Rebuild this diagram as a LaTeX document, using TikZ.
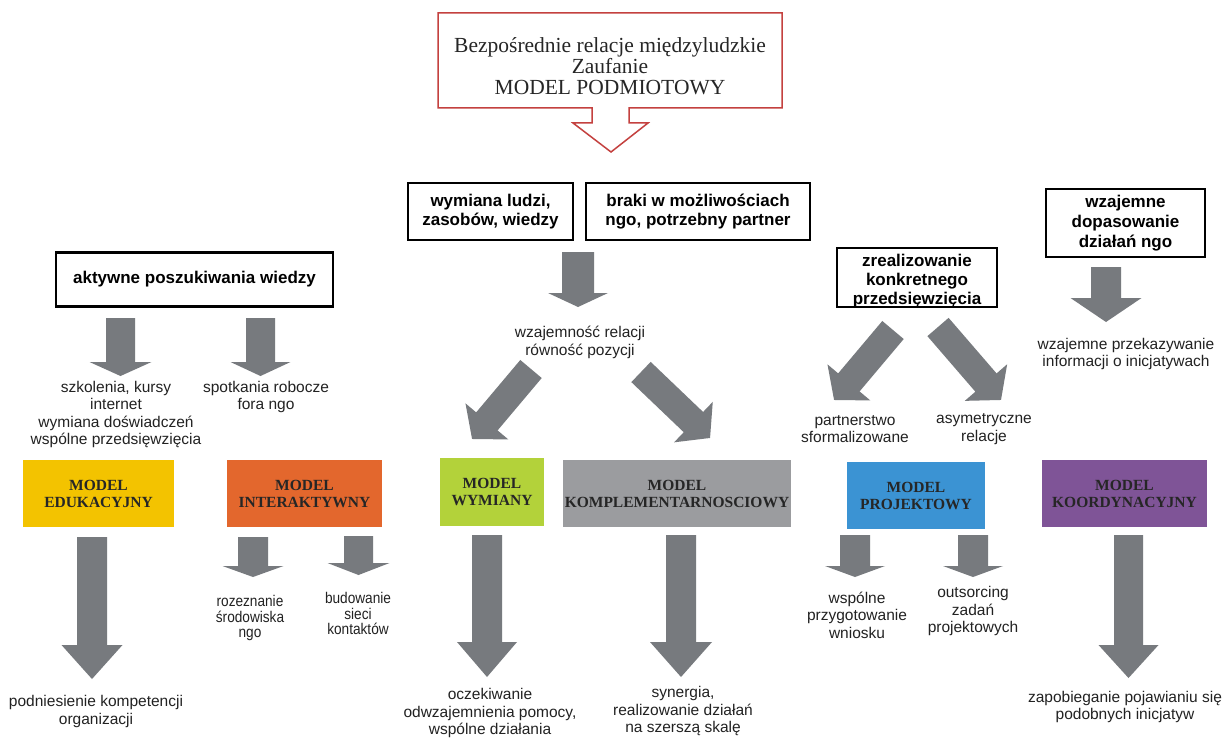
\documentclass[tikz,border=0pt]{standalone}
\usepackage{fontspec}
\setmainfont{Liberation Serif}
\setsansfont{Liberation Sans}
\newfontfamily\narrowsans[FakeStretch=0.88]{Liberation Sans}
\definecolor{arrgray}{HTML}{777A7E}
\definecolor{topred}{HTML}{C4413F}
\definecolor{cyellow}{HTML}{F3C300}
\definecolor{corange}{HTML}{E3672D}
\definecolor{clime}{HTML}{B3D23A}
\definecolor{cgray}{HTML}{9B9C9F}
\definecolor{cblue}{HTML}{3B93D3}
\definecolor{cpurple}{HTML}{7F5497}
\definecolor{modeltext}{HTML}{262626}
\definecolor{lbltext}{HTML}{222222}
\tikzset{
  arrowfill/.style={fill=arrgray},
  blackbox/.style={draw=black, line width=2.8pt, inner sep=0pt, align=center,
    font=\sffamily\bfseries\fontsize{17}{19}\selectfont},
  modelbox/.style={inner sep=0pt, align=center, text=modeltext,
    font=\rmfamily\bfseries\fontsize{15.5}{17}\selectfont},
  lbl/.style={inner sep=0pt, align=center, text=lbltext,
    font=\sffamily\fontsize{15.5}{17.5}\selectfont},
  nlbl/.style={inner sep=0pt, align=center, text=lbltext,
    font=\narrowsans\fontsize{15.5}{15.5}\selectfont},
  toptext/.style={inner sep=0pt, align=center, text=black!85,
    font=\rmfamily\fontsize{21.5}{21}\selectfont}
}
\newcommand{\blockarrow}[7]{%
  \begin{scope}[shift={(#1,#2)},rotate=#3]
    \fill[arrowfill] (0,-#5/2) -- ({#4-#7},-#5/2) -- ({#4-#7},-#6/2) -- ({#4},0)
      -- ({#4-#7},#6/2) -- ({#4-#7},#5/2) -- (0,#5/2) -- cycle;
  \end{scope}}
\newcommand{\downarr}[6]{\blockarrow{#1}{#2}{-90}{#3-#2}{#4}{#5}{#6}}
\begin{document}
\begin{tikzpicture}[x=1pt,y=-1pt]
\useasboundingbox[fill=white] (0,0) rectangle (1225,738);

% top red box with arrow
\draw[topred, line width=1.5pt, line join=miter]
  (438,13) -- (782,13) -- (782,108) -- (629,108) -- (629,123) -- (648,123)
  -- (611,152) -- (573,123) -- (592,123) -- (592,108) -- (438,108) -- cycle;
\node[toptext] (top) at (610,66) {Bezpośrednie relacje międzyludzkie\\Zaufanie\\MODEL PODMIOTOWY};

% black boxes
\node[blackbox, minimum width=277pt, minimum height=54pt] (akt) at (194.5,279.5) {aktywne poszukiwania wiedzy};
\node[blackbox, minimum width=165pt, minimum height=57pt] (wym) at (490.5,211.5) {wymiana ludzi,\\zasobów, wiedzy};
\node[blackbox, minimum width=224pt, minimum height=57pt] (bra) at (698,211.5) {braki w możliwościach\\ngo, potrzebny partner};
\node[blackbox, minimum width=160pt, minimum height=59pt] (zre) at (917,277.5) {};
\node[inner sep=0pt, align=center, font=\sffamily\bfseries\fontsize{17}{19}\selectfont] (zret) at (917,281) {zrealizowanie\\konkretnego\\przedsięwzięcia};
\node[blackbox, minimum width=159pt, minimum height=68pt, font=\sffamily\bfseries\fontsize{17}{20}\selectfont] (dop) at (1125.5,223) {wzajemne\\dopasowanie\\działań ngo};

% model boxes
\node[modelbox, fill=cyellow, minimum width=151pt, minimum height=67pt] (edu) at (98.5,493.5) {MODEL\\EDUKACYJNY};
\node[modelbox, fill=corange, minimum width=155pt, minimum height=67pt] (int) at (304.5,493.5) {MODEL\\INTERAKTYWNY};
\node[modelbox, fill=clime, minimum width=104pt, minimum height=68pt] (wmod) at (492,492) {MODEL\\WYMIANY};
\node[modelbox, fill=cgray, minimum width=228pt, minimum height=67pt] (kom) at (677,493.5) {MODEL\\KOMPLEMENTARNOSCIOWY};
\node[modelbox, fill=cblue, minimum width=138pt, minimum height=67pt] (pro) at (916,495.5) {MODEL\\PROJEKTOWY};
\node[modelbox, fill=cpurple, minimum width=165pt, minimum height=67pt] (koo) at (1124.5,493.5) {MODEL\\KOORDYNACYJNY};

% labels
\node[lbl] (szk) at (116,414.5) {szkolenia, kursy\\internet\\wymiana doświadczeń\\wspólne przedsięwzięcia};
\node[lbl] (spo) at (266,397) {spotkania robocze\\fora ngo};
\node[lbl] (wzr) at (580,342.5) {wzajemność relacji\\równość pozycji};
\node[lbl] (par) at (855,429) {partnerstwo\\sformalizowane};
\node[lbl] (asy) at (984,429) {asymetryczne\\relacje};
\node[lbl] (prz) at (1126,354) {wzajemne przekazywanie\\informacji o inicjatywach};
\node[lbl] (pod) at (96,711.5) {podniesienie kompetencji\\organizacji};
\node[lbl] (ocz) at (490,713) {oczekiwanie\\odwzajemnienia pomocy,\\wspólne działania};
\node[lbl] (syn) at (683,711) {synergia,\\realizowanie działań\\na szerszą skalę};
\node[lbl] (zap) at (1125,707) {zapobieganie pojawianiu się\\podobnych inicjatyw};
\node[lbl] (wsp) at (857,615) {wspólne\\przygotowanie\\wniosku};
\node[lbl] (out) at (973,611) {outsorcing\\zadań\\projektowych};
\node[nlbl] (roz) at (250,618) {rozeznanie\\środowiska\\ngo};
\node[nlbl] (bud) at (358,613.5) {budowanie\\sieci\\kontaktów};

% down block arrows
\downarr{120.5}{318}{376}{29}{62}{14}
\downarr{260.5}{318}{376}{29}{60}{14}
\downarr{578}{252}{307}{32}{60}{14}
\downarr{1106}{267}{322}{30}{71}{24}
\downarr{92}{537}{679}{30}{61}{34}
\downarr{253}{537}{577}{30}{61}{11}
\downarr{358.5}{536}{575}{29}{62}{12}
\downarr{487}{535}{677}{30}{60}{35}
\downarr{681}{535}{677}{30}{62}{35}
\downarr{855}{535}{577}{30}{60}{11}
\downarr{973}{535}{577}{30}{60}{11}
\downarr{1128.5}{535}{678}{29}{60}{33}

% diagonal block arrows
\blockarrow{531}{369}{-130.1}{91.5}{28}{56}{23}
\blockarrow{641}{372}{-43.7}{95.5}{28}{56}{23}
\blockarrow{893}{330}{-130.1}{91.5}{28}{56}{23}
\blockarrow{938}{327}{-49.2}{96.4}{28}{56}{23}
\end{tikzpicture}
\end{document}
